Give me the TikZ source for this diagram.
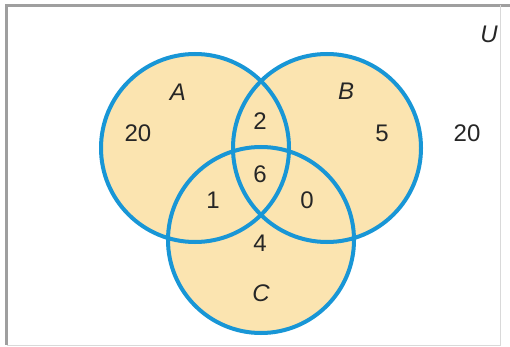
\documentclass[tikz,border=0pt]{standalone}
\usepackage{fontspec}
\setmainfont{Liberation Sans}
\definecolor{vennblue}{RGB}{24,150,214}
\definecolor{venntan}{RGB}{251,228,176}
\begin{document}
\begin{tikzpicture}[x=1pt,y=-1pt,
  setring/.style={draw=vennblue, line width=4pt},
  count/.style={font=\fontsize{24}{28}\selectfont, text=black!85},
  setname/.style={font=\fontsize{24}{28}\selectfont\itshape, text=black!85}]
\useasboundingbox (0,0) rectangle (510,347);
\fill[white] (0,0) rectangle (510,347);
% frame
\draw[gray!75, line width=2.6pt] (510,5.5) -- (6.5,5.5) -- (6.5,345);
\draw[gray!30, line width=1pt] (6.5,345) -- (500,345) -- (500,5.5);
% circles
\coordinate (cA) at (195,148);
\coordinate (cB) at (327,148);
\coordinate (cC) at (261,240);
\fill[venntan] (cA) circle[radius=94] (cB) circle[radius=94] (cC) circle[radius=93];
\draw[setring] (cA) circle[radius=94];
\draw[setring] (cB) circle[radius=94];
\draw[setring] (cC) circle[radius=93];
% labels
\node[setname] (labA) at (178,92) {A};
\node[setname] (labB) at (346,91) {B};
\node[setname] (labC) at (261,293) {C};
\node[setname] (labU) at (489,34) {U};
\node[count] (onlyA) at (138,133) {20};
\node[count] (onlyB) at (382,133) {5};
\node[count] (outside) at (467,133) {20};
\node[count] (AB) at (260,121) {2};
\node[count] (ABC) at (260,174) {6};
\node[count] (AC) at (213,200) {1};
\node[count] (BC) at (307,200) {0};
\node[count] (onlyC) at (260,243) {4};
\end{tikzpicture}
\end{document}
